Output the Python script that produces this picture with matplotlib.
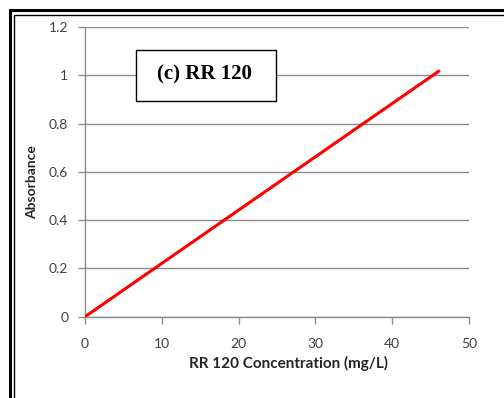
import matplotlib
matplotlib.use("Agg")
import matplotlib.pyplot as plt
from matplotlib.patches import Rectangle

# calibration line
conc = [0, 46.2]
absorb = [0, 1.02]

xticks = [0, 10, 20, 30, 40, 50]
yticks = [0, 0.2, 0.4, 0.6, 0.8, 1, 1.2]
ytick_labels = ["0", "0.2", "0.4", "0.6", "0.8", "1", "1.2"]

W, H = 504, 398
GRID = "#8c8c8c"
TXT = "#404040"

plt.rcParams["font.family"] = ["Lato", "DejaVu Sans"]

fig = plt.figure(figsize=(W / 100, H / 100), dpi=100)
fig.patch.set_facecolor("white")
ax = fig.add_axes([85 / W, 1 - 316.7 / H, 384 / W, 289.7 / H])

ax.plot(conc, absorb, color="#ff0000", lw=2.2, solid_capstyle="butt", zorder=3)

ax.set_xlim(0, 50)
ax.set_ylim(0, 1.2)
ax.set_xticks(xticks)
ax.set_yticks(yticks)
ax.set_yticklabels(ytick_labels)
ax.tick_params(direction="out", length=5, width=1, color=GRID, labelcolor=TXT, labelsize=10)
ax.tick_params(axis="y", pad=7)
ax.tick_params(axis="x", pad=10)
ax.yaxis.grid(True, color=GRID, lw=1)
ax.set_axisbelow(True)
for s in ("top", "right"):
    ax.spines[s].set_visible(False)
for s in ("left", "bottom"):
    ax.spines[s].set_color(GRID)
    ax.spines[s].set_linewidth(1)

ax.set_xlabel("RR 120 Concentration (mg/L)", fontsize=11, fontweight="bold", color="#262626")
ax.xaxis.set_label_coords(0.529, (316.7 - 363.5) / 289.7)
ax.xaxis.label.set_va("center")
ax.set_ylabel("Absorbance", fontsize=10, fontweight="bold", color="#262626")
ax.yaxis.set_label_coords((32 - 85) / 384, (316.7 - 182) / 289.7)
ax.yaxis.label.set_va("center")

# title box
fig.patches.append(Rectangle((136 / W, 1 - 101 / H), 140 / W, 51 / H, transform=fig.transFigure,
                             fc="white", ec="black", lw=1, zorder=5))
fig.text(204.5 / W, 1 - 74 / H, "(c) RR 120", ha="center", va="center",
         family="Liberation Serif", fontsize=15, fontweight="bold", color="black", zorder=6)

# double frame around the figure
fig.patches.append(Rectangle((9.8 / W, -0.1), 1.2, 1 - 9.8 / H + 0.1, transform=fig.transFigure,
                             fill=False, ec="black", lw=2.2))
fig.patches.append(Rectangle((14 / W, -0.1), 1.2, 1 - 14.5 / H + 0.1, transform=fig.transFigure,
                             fill=False, ec="black", lw=1))

fig.savefig("out.png", dpi=100, facecolor="white")
